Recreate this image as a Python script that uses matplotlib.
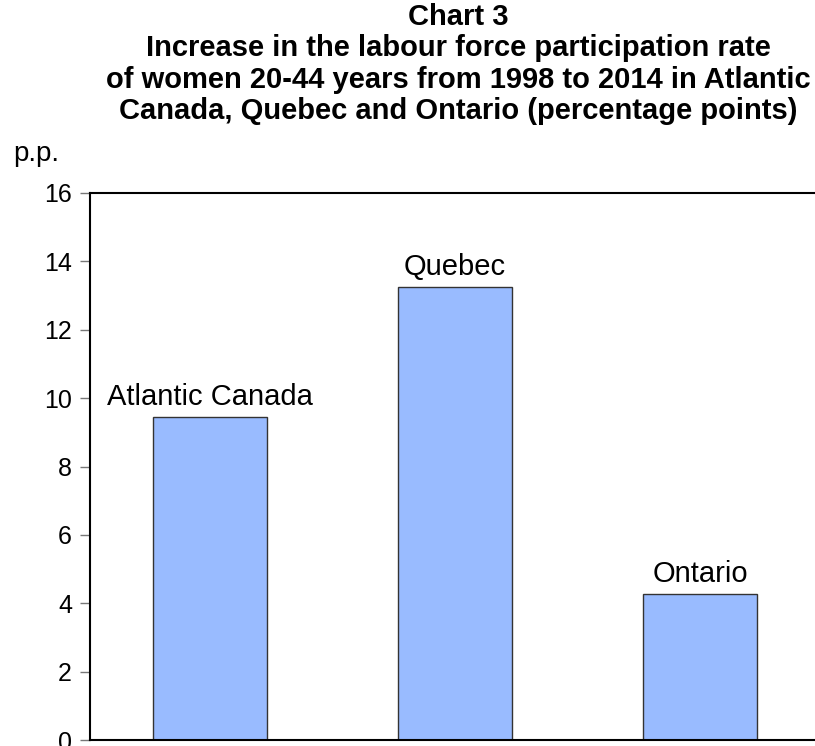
import matplotlib.pyplot as plt

plt.rcParams['font.family'] = ['Liberation Sans', 'DejaVu Sans']

regions = ['Atlantic Canada', 'Quebec', 'Ontario']
increase = [9.45, 13.25, 4.27]
y_ticks = [0, 2, 4, 6, 8, 10, 12, 14, 16]

fig = plt.figure(figsize=(8.15, 7.46), dpi=100)
ax = fig.add_axes([90 / 815, 6 / 746, 730 / 815, 547 / 746])

x = range(len(regions))
bars = ax.bar(x, increase, width=0.465, color='#99bbff', edgecolor='#333333', linewidth=1)

# etiquette au-dessus de chaque barre
for xi, v, name in zip(x, increase, regions):
    ax.annotate(name, (xi, v), xytext=(0, 4), textcoords='offset points',
                ha='center', va='bottom', fontsize=21)

ax.set_xlim(-0.49, 2.49)
ax.set_ylim(0, 16)
ax.set_yticks(y_ticks)
ax.set_xticks([])
ax.tick_params(axis='y', labelsize=18, length=7, width=1, color='#777777', pad=6)
ax.spines['right'].set_visible(False)
for s in ['left', 'top', 'bottom']:
    ax.spines[s].set_linewidth(1.5)

fig.text(13 / 815, 1 - 154 / 746, 'p.p.', fontsize=20, ha='left', va='center')

fig.text(0.562, 1 - 3 / 746,
         'Chart 3\nIncrease in the labour force participation rate\n'
         'of women 20-44 years from 1998 to 2014 in Atlantic\n'
         'Canada, Quebec and Ontario (percentage points)',
         ha='center', va='top', fontsize=21, fontweight='bold', linespacing=1.15)

fig.savefig('out.png', dpi=100)
